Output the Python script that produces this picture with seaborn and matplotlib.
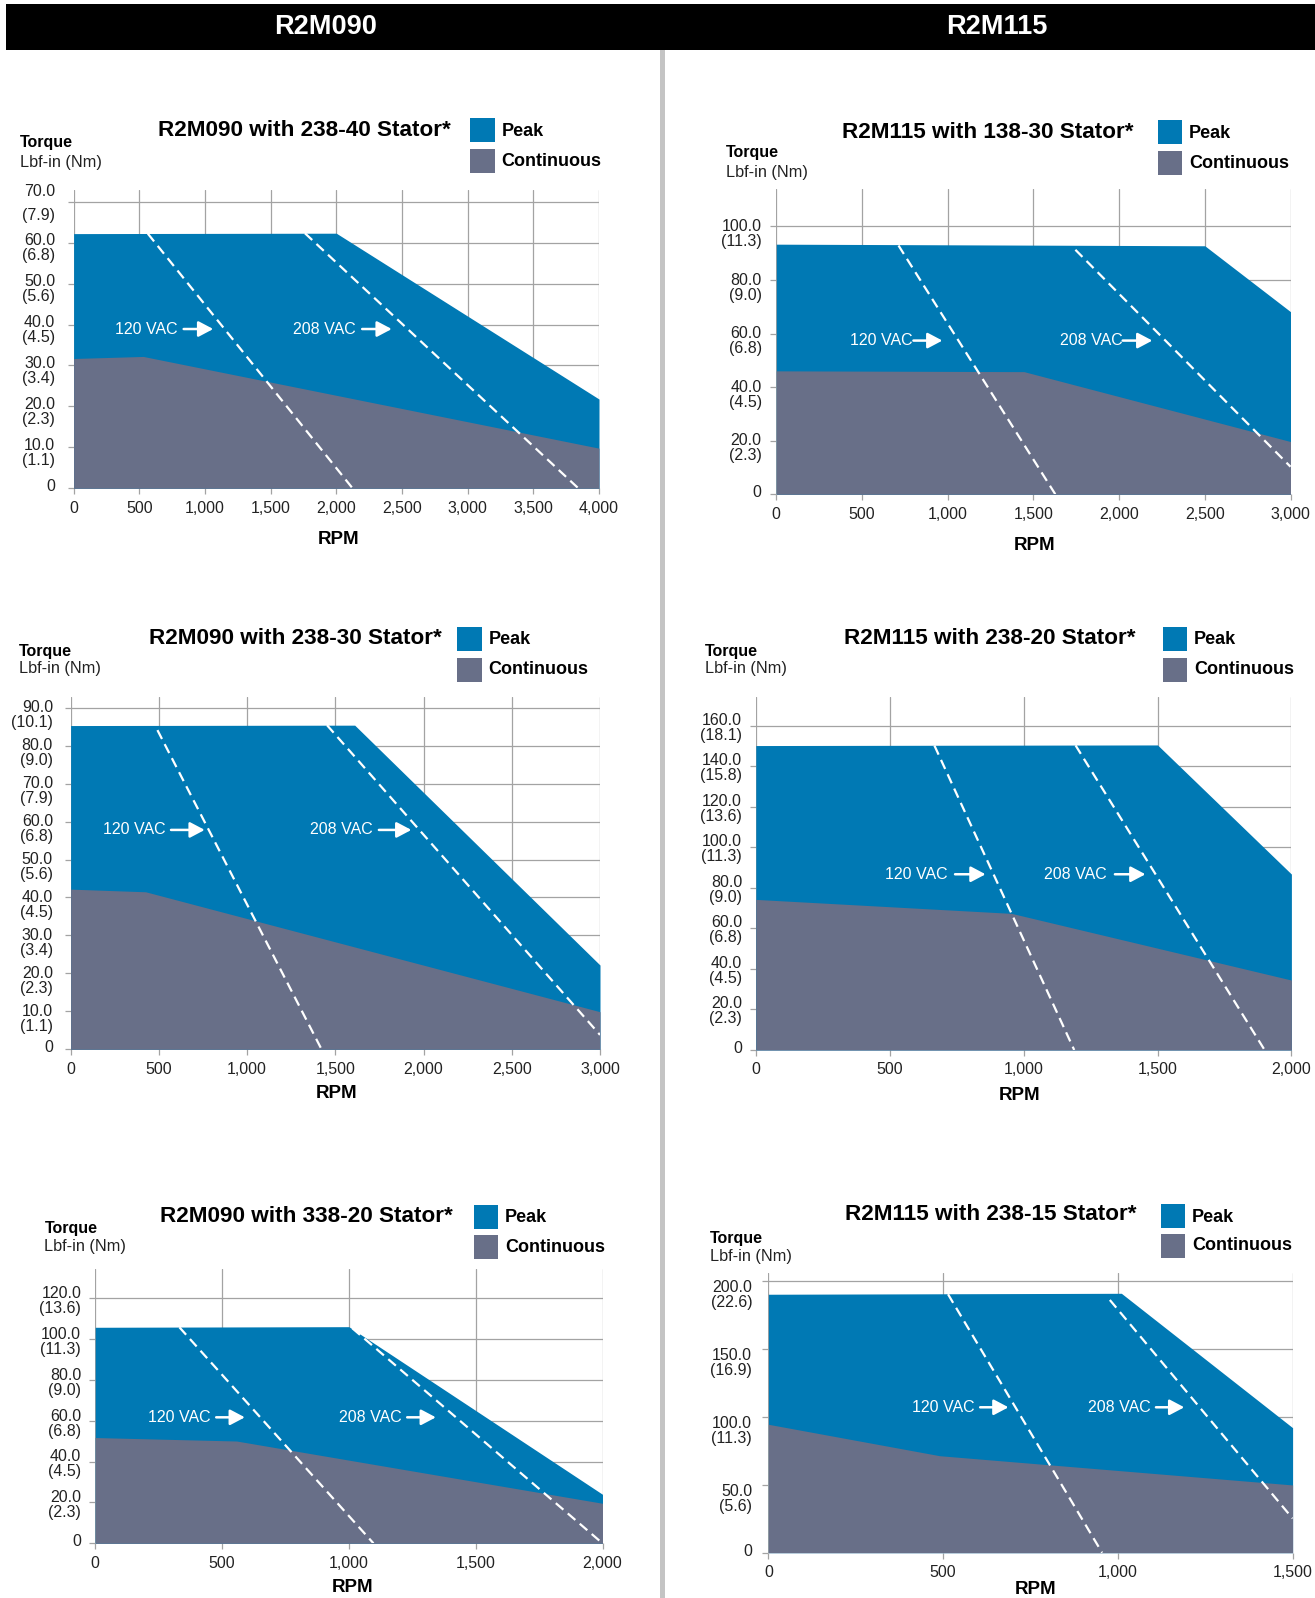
import matplotlib
matplotlib.use("Agg")
import matplotlib.pyplot as plt
from matplotlib.patches import Rectangle
from matplotlib.transforms import ScaledTranslation
import seaborn as sns

sns.set_theme(style="white")
plt.rcParams["font.family"] = ["Liberation Sans Narrow", "Liberation Sans", "DejaVu Sans"]

# ---- data (rpm, torque lbf-in) ----
titles = ["R2M090 with 238-40 Stator*", "R2M115 with 138-30 Stator*",
          "R2M090 with 238-30 Stator*", "R2M115 with 238-20 Stator*",
          "R2M090 with 338-20 Stator*", "R2M115 with 238-15 Stator*"]
headers = ["R2M090", "R2M115"]

peak_rpm = [[0, 2000, 4000], [0, 2500, 3000], [0, 1610, 3000],
            [0, 1500, 2000], [0, 1000, 2000], [0, 1010, 1500]]
peak_torque = [[62.2, 62.3, 21.8], [93.4, 92.8, 68.2], [85.3, 85.4, 22.2],
               [150.2, 150.5, 86.8], [105.8, 106.1, 24.0], [190.0, 190.7, 91.9]]
cont_rpm = [[0, 530, 4000], [0, 1445, 3000], [0, 425, 3000],
            [0, 955, 2000], [0, 557, 2000], [0, 490, 1500]]
cont_torque = [[31.7, 32.2, 9.8], [46.1, 45.8, 19.7], [42.2, 41.5, 9.9],
               [74.3, 67.4, 34.5], [51.8, 50.1, 19.6], [94.4, 71.3, 49.8]]

# voltage limit lines: (rpm start, rpm end), (torque start, torque end)
v120_rpm = [[565, 2124], [713, 1628], [492, 1422], [667, 1189], [332, 1097], [514, 955]]
v120_torque = [[62.2, 0], [92.9, 0], [84.1, 0], [150.2, 0], [105.8, 0], [190.0, 0]]
v208_rpm = [[1761, 3843], [1745, 3000], [1453, 3000], [1194, 1900], [1014, 2000], [977, 1500]]
v208_torque = [[62.3, 0], [91.3, 10.3], [85.4, 3.8], [150.3, 0], [105.3, 0], [185.8, 25.2]]

# axis ticks
x_max = [4000, 3000, 3000, 2000, 2000, 1500]
y_ticks = [[0, 10, 20, 30, 40, 50, 60, 70],
           [0, 20, 40, 60, 80, 100],
           [0, 10, 20, 30, 40, 50, 60, 70, 80, 90],
           [0, 20, 40, 60, 80, 100, 120, 140, 160],
           [0, 20, 40, 60, 80, 100, 120],
           [0, 50, 100, 150, 200]]
y_nm = [["", "1.1", "2.3", "3.4", "4.5", "5.6", "6.8", "7.9"],
        ["", "2.3", "4.5", "6.8", "9.0", "11.3"],
        ["", "1.1", "2.3", "3.4", "4.5", "5.6", "6.8", "7.9", "9.0", "10.1"],
        ["", "2.3", "4.5", "6.8", "9.0", "11.3", "13.6", "15.8", "18.1"],
        ["", "2.3", "4.5", "6.8", "9.0", "11.3", "13.6"],
        ["", "5.6", "11.3", "16.9", "22.6"]]

# ---- layout (pixels in the 1315x1598 figure) ----
W, H = 1315, 1598
BLUE = "#0079B4"
GREY = "#686F88"
GRID = "#A3A3A3"
TXT = "#222222"

# axes box: left, right, top, bottom
boxes = [(73.6, 599, 190, 488.3), (776.3, 1290.5, 189, 494.3),
         (70.6, 600, 696.7, 1049.3), (755.8, 1291.4, 696.7, 1050),
         (95.2, 602.5, 1269.3, 1543.3), (768.4, 1292.6, 1273.3, 1552.7)]
y_top = [72.85, 114.0, 92.9, 174.3, 134.2, 205.4]
title_xy = [(304, 130), (987.4, 132), (295, 639), (989.5, 639), (306.5, 1217), (991, 1215)]
torque_xy = [(20.3, 143, 162), (725.7, 153, 173), (19, 651, 669),
             (704.8, 651, 669), (44.4, 1228, 1246), (710.2, 1239, 1257)]
legend_xy = [(470.4, 118, 149), (1157.9, 120, 151), (457.3, 627, 658),
             (1162.9, 627, 658), (473.8, 1205, 1235), (1160.8, 1204, 1234)]
rpm_xy = [(338.4, 539), (1034.5, 545), (336.3, 1093), (1019.8, 1095), (352.4, 1587), (1035.3, 1590)]
ytick_pad = [9, 6.2, 8.4, 5.6, 5.8, 7.4]
ylab_shift = [4.3, 6, 5.7, 0.5, 1.3, 13]
# VAC label: y, 120 text end, 120 arrow (start, end), 208 text end, 208 arrow
vac = [(38.9, 790, 838, 1063, 2150, 2197, 2422),
       (57.4, 798, 800, 969, 2019, 2021, 2194),
       (57.8, 538, 569, 760, 1714, 1747, 1931),
       (86.7, 717, 744, 858, 1311, 1341, 1455),
       (61.7, 457, 477, 590, 1210, 1230, 1343),
       (106.9, 590, 606, 687, 1093, 1109, 1190)]

fig = plt.figure(figsize=(W / 100, H / 100), dpi=100)


def fx(x):
    return x / W


def fy(y):
    return 1 - y / H


def rect(x0, y0, x1, y1, color):
    fig.add_artist(Rectangle((fx(x0), fy(y1)), fx(x1 - x0), (y1 - y0) / H,
                             transform=fig.transFigure, color=color, lw=0))


# header bar and divider
rect(6, 4, W, 50, "black")
rect(660, 50, 665, H, "#C4C4C4")
for hx, htxt in zip([326, 997], headers):
    fig.text(fx(hx), fy(27), htxt, color="white", fontsize=19.5, weight="bold",
             ha="center", va="center", family=["Liberation Sans", "DejaVu Sans"])

for i in range(6):
    l, r, t, b = boxes[i]
    ax = fig.add_axes([fx(l), fy(b), fx(r - l), (b - t) / H])
    ax.set_xlim(0, x_max[i])
    ax.set_ylim(0, y_top[i])

    ax.fill_between(peak_rpm[i], peak_torque[i], color=BLUE, lw=0, zorder=2)
    ax.fill_between(cont_rpm[i], cont_torque[i], color=GREY, lw=0, zorder=3)
    for xs, ys in [(v120_rpm[i], v120_torque[i]), (v208_rpm[i], v208_torque[i])]:
        sns.lineplot(x=xs, y=ys, ax=ax, color="white", lw=1.6, sort=False,
                     estimator=None, linestyle=(0, (4.5, 2.6)), zorder=4)

    # ticks and grid
    xt = list(range(0, x_max[i] + 1, 500))
    ax.set_xticks(xt, ["0" if v == 0 else f"{v:,}" for v in xt])
    labs = []
    for v, nm in zip(y_ticks[i], y_nm[i]):
        labs.append("0" if v == 0 else f"{v:.1f}\n({nm})")
    ax.set_yticks(y_ticks[i], labs)
    ax.grid(True, color=GRID, lw=0.9)
    ax.set_axisbelow(True)
    for s in ax.spines.values():
        s.set_visible(False)
    ax.tick_params(axis="both", which="major", bottom=True, left=True, length=4.3,
                   width=0.9, color=GRID, direction="out", labelsize=11.5, labelcolor=TXT)
    ax.tick_params(axis="x", pad=4.5)
    ax.tick_params(axis="y", pad=ytick_pad[i])
    for v, lab in zip(y_ticks[i], ax.get_yticklabels()):
        lab.set_linespacing(1.0)
        shift = -ylab_shift[i]
        if v == 0:
            shift = 3
        if i == 0 and v == 70:
            lab.set_linespacing(1.75)
            shift = 4
        lab.set_transform(lab.get_transform() + ScaledTranslation(0, shift / 100, fig.dpi_scale_trans))
    ax.set_xlabel("")
    ax.set_ylabel("")

    # voltage annotations
    yv, t1, a1s, a1e, t2, a2s, a2e = vac[i]
    for tx, xs, xe, name in [(t1, a1s, a1e, "120 VAC"), (t2, a2s, a2e, "208 VAC")]:
        ax.text(tx, yv, name, color="white", fontsize=11.5, ha="right", va="center", zorder=5)
        ax.annotate("", xy=(xe, yv), xytext=(xs, yv), zorder=5,
                    arrowprops=dict(arrowstyle="-|>,head_length=0.85,head_width=0.45",
                                    color="white", lw=1.8, mutation_scale=10.5,
                                    shrinkA=0, shrinkB=0))

    # titles, axis captions, legend
    fig.text(fx(title_xy[i][0]), fy(title_xy[i][1]), titles[i], fontsize=16.2,
             weight="bold", ha="center", va="center", color="black")
    tx, ty1, ty2 = torque_xy[i]
    fig.text(fx(tx), fy(ty1), "Torque", fontsize=11.5, weight="bold", va="center", color="black")
    fig.text(fx(tx), fy(ty2), "Lbf-in (Nm)", fontsize=11.7, va="center", color=TXT)
    lx, py, cy = legend_xy[i]
    rect(lx, py, lx + 24.5, py + 24, BLUE)
    rect(lx, cy, lx + 24.5, cy + 24, GREY)
    fig.text(fx(lx + 31), fy(py + 13), "Peak", fontsize=13, weight="bold", va="center", color="black")
    fig.text(fx(lx + 31), fy(cy + 12), "Continuous", fontsize=13, weight="bold", va="center", color="black")
    fig.text(fx(rpm_xy[i][0]), fy(rpm_xy[i][1]), "RPM", fontsize=13.5, weight="bold",
             ha="center", va="center", color="black")

fig.savefig("out.png", dpi=100)
